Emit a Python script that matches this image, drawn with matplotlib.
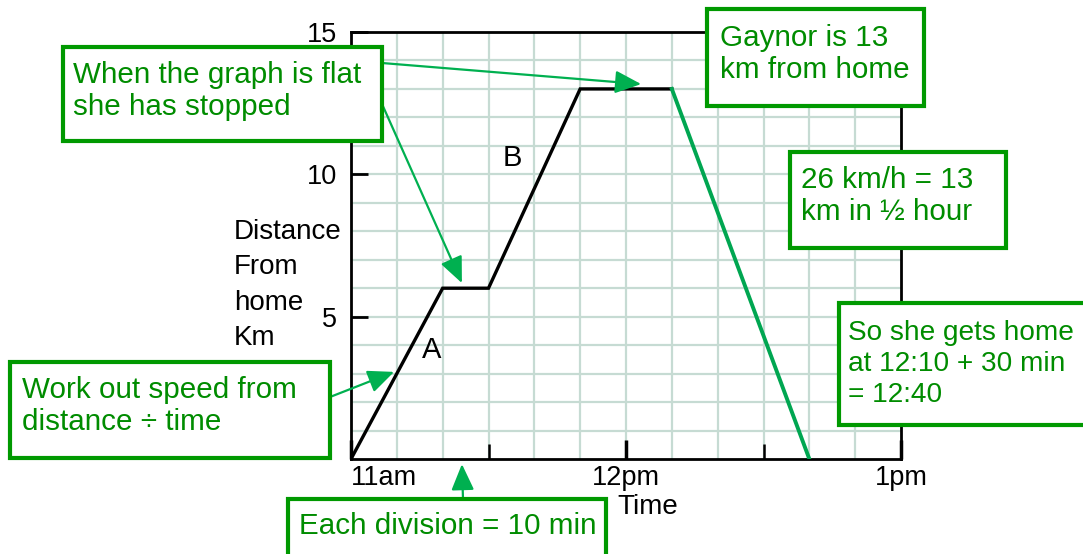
import matplotlib
matplotlib.use("Agg")
import matplotlib.pyplot as plt
from matplotlib.patches import Rectangle

# ---- data ----
walk_minutes = [0, 20, 30, 50, 70]      # minutes after 11am
walk_km = [0, 6, 6, 13, 13]
return_minutes = [70, 100]
return_km = [13, 0]
x_tick_pos = [0, 60, 120]
x_tick_labels = ["11am", "12pm", "1pm"]
y_tick_pos = [5, 10, 15]
y_tick_labels = ["5", "10", "15"]
y_label_lines = ["Distance", "From", "home", "Km"]

W, H = 1083, 554
plt.rcParams['font.family'] = ['Liberation Sans', 'DejaVu Sans']
fig = plt.figure(figsize=(W / 100, H / 100), dpi=100)

def fx(px):
    return px / W

def fy(py):
    return 1 - py / H

ax = fig.add_axes([fx(351), fy(459), fx(901) - fx(351), fy(32) - fy(459)])
ax.set_xlim(0, 120)
ax.set_ylim(0, 15)

grid_c = '#c6dbd3'
for m in range(10, 120, 10):
    ax.axvline(m, color=grid_c, lw=1.6, zorder=0)
for k in range(1, 15):
    ax.axhline(k, color=grid_c, lw=1.6, zorder=0)

ax.plot(walk_minutes, walk_km, color='black', lw=2.4, zorder=3, solid_joinstyle='miter')
ax.plot(return_minutes, return_km, color='#00A651', lw=2.8, zorder=3)

for s in ax.spines.values():
    s.set_linewidth(2)
    s.set_color('black')

ax.set_xticks(x_tick_pos)
ax.set_xticklabels(x_tick_labels, fontsize=19.5)
ax.set_xticks([30, 90], minor=True)
ax.set_yticks(y_tick_pos)
ax.set_yticklabels(y_tick_labels, fontsize=19.5)
ax.tick_params(axis='x', which='major', direction='in', length=14, width=2.5, pad=4)
ax.tick_params(axis='x', which='minor', direction='in', length=11, width=1.8)
ax.tick_params(axis='y', which='major', direction='in', length=12, width=2, pad=10)
ax.get_xticklabels()[0].set_horizontalalignment('left')

ax.text(17.7, 3.83, "A", fontsize=21, ha='center', va='center')
ax.text(35.3, 10.57, "B", fontsize=21, ha='center', va='center')

for i, line in enumerate(y_label_lines):
    fig.text(fx(234), fy(232 + 35.3 * i), line, fontsize=20, ha='left', va='center')
fig.text(fx(648), fy(507), "Time", fontsize=20, ha='center', va='center')

txt_c = '#008C00'
box_c = '#009900'
arr_c = '#00B050'

def box(x0, y0, x1, y1, text, tx, ty, fs=21.3, ls=1.18):
    r = Rectangle((fx(x0), fy(y1)), fx(x1) - fx(x0), fy(y0) - fy(y1),
                  transform=fig.transFigure, facecolor='white',
                  edgecolor=box_c, lw=3, zorder=10, clip_on=False)
    fig.add_artist(r)
    t = fig.text(fx(tx), fy(ty), text, fontsize=fs, color=txt_c,
                 ha='left', va='center', linespacing=ls, zorder=11)
    return t

def arrow(x_from, y_from, xy_data):
    ax.annotate("", xy=xy_data, xycoords='data',
                xytext=(x_from, H - y_from), textcoords='figure pixels',
                arrowprops=dict(arrowstyle='-|>,head_length=0.8,head_width=0.35',
                                color=arr_c, lw=1.6, shrinkA=0, shrinkB=0,
                                mutation_scale=20),
                annotation_clip=False, zorder=9)

# arrows (drawn beneath boxes)
arrow(382, 63, (63.3, 13.17))
arrow(382, 104, (24.2, 6.18))
arrow(330, 397, (9.4, 3.06))
arrow(463, 499, (24.2, -0.18))

box(63, 47, 382, 141, "When the graph is flat\nshe has stopped", 73, 91)
box(707, 9, 924, 106, "Gaynor is 13\nkm from home", 720, 54)
box(790, 152, 1006, 248, "26 km/h = 13\nkm in \u00bd hour", 801, 196)
box(839, 303, 1095, 425, "So she gets home\nat 12:10 + 30 min\n= 12:40", 848, 364,
    fs=20.2, ls=1.25)
box(10, 362, 330, 458, "Work out speed from\ndistance \u00f7 time", 22, 406)
box(288, 499, 606, 570, "Each division = 10 min", 299, 526)

fig.savefig("out.png", dpi=100)
